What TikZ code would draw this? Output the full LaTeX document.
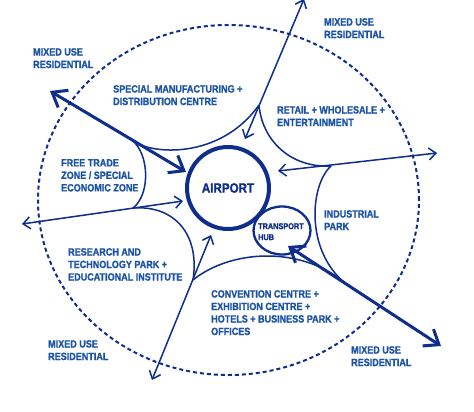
\documentclass[tikz,border=0pt]{standalone}
\usepackage{fontspec}
\setmainfont{Liberation Sans}[FakeStretch=0.86, BoldFeatures={FakeBold=1.2}]
\usetikzlibrary{arrows.meta,shapes.geometric}
\definecolor{ln}{RGB}{14,45,140}
\definecolor{tx}{RGB}{28,84,165}
\tikzset{
  lbl/.style={font=\bfseries\fontsize{10.5}{12.5}\selectfont, text=tx, align=left, anchor=north west, inner sep=0pt},
  edge/.style={draw=ln, line width=1.5pt},
  arr/.style={edge, {Straight Barb[length=7pt,width=12pt]}-{Straight Barb[length=7pt,width=12pt]}},
  tarr/.style={draw=ln, line width=3pt, {Straight Barb[length=13pt,width=20pt]}-{Straight Barb[length=13pt,width=20pt]}},
  zone/.style={draw=ln, line width=2pt, dash pattern=on 4pt off 3pt}
}
\begin{document}
\begin{tikzpicture}[x=1pt,y=-1pt]
\fill[white] (0,0) rectangle (474,412);
\useasboundingbox (0,0) rectangle (474,412);

% outer dashed boundary
\draw[zone] (228.5,200) ellipse [x radius=190.5pt, y radius=175pt];

% airport and hub
\node[circle, draw=ln, line width=4pt, minimum size=82pt, inner sep=0pt,
      font=\bfseries\fontsize{13.5}{14}\selectfont, text=ln] (ap) at (228,188) {AIRPORT};
\node[ellipse, draw=ln, line width=2.3pt, minimum width=57pt, minimum height=48pt, inner sep=0pt] (hub) at (282,230.5) {};
\node[lbl, text=ln, font=\bfseries\fontsize{8.5}{11}\selectfont] (hubt) at (258,223) {TRANSPORT\\HUB};

% junctions
\coordinate (J1) at (132,140);
\coordinate (J2) at (259,105);
\coordinate (J3) at (331,166);
\coordinate (J4) at (345,283);
\coordinate (J5) at (193,280);
\coordinate (J6) at (133,208);

% arrow end points
\coordinate (A1) at (50,91);   \coordinate (A2) at (186,172);
\coordinate (B1) at (22,224);  \coordinate (B2) at (183,201);
\coordinate (C1) at (304,-1);  \coordinate (C2) at (245,139);
\coordinate (D1) at (437,153); \coordinate (D2) at (278,171);
\coordinate (E1) at (288,246); \coordinate (E2) at (441,346);
\coordinate (F1) at (152,380); \coordinate (F2) at (211,235);

% zone boundaries
\draw[edge] (J1) .. controls (150,155) and (220,160) .. (J2);
\draw[edge] (J2) .. controls (262,140) and (290,168) .. (J3);
\draw[edge] (J3) .. controls (310,185) and (305,250) .. (J4);
\draw[edge] (J4) .. controls (300,245) and (230,250) .. (J5);
\draw[edge] (J5) .. controls (200,235) and (175,205) .. (J6);
\draw[edge] (J6) .. controls (150,195) and (150,155) .. (J1);

% arrows
\draw[tarr] (A1) -- (A2);
\draw[arr] (B1) -- (B2);
\draw[arr] (C1) -- (C2);
\draw[arr] (D1) -- (D2);
\draw[tarr] (E1) -- (E2);
\draw[arr] (F1) -- (F2);

% labels
\node[lbl] (mtl) at (33,48) {MIXED USE\\RESIDENTIAL};
\node[lbl] (mtr) at (324,18) {MIXED USE\\RESIDENTIAL};
\node[lbl] (smd) at (113,85) {SPECIAL MANUFACTURING +\\DISTRIBUTION CENTRE};
\node[lbl] (rwe) at (277,106) {RETAIL + WHOLESALE +\\ENTERTAINMENT};
\node[lbl] (ftz) at (61,159) {FREE TRADE\\ZONE / SPECIAL\\ECONOMIC ZONE};
\node[lbl] (ind) at (324,210) {INDUSTRIAL\\PARK};
\node[lbl] (rtp) at (68,248) {RESEARCH AND\\TECHNOLOGY PARK +\\EDUCATIONAL INSTITUTE};
\node[lbl] (cce) at (211,290) {CONVENTION CENTRE +\\EXHIBITION CENTRE +\\HOTELS + BUSINESS PARK +\\OFFICES};
\node[lbl] (mbl) at (48,340) {MIXED USE\\RESIDENTIAL};
\node[lbl] (mbr) at (351,346) {MIXED USE\\RESIDENTIAL};
\end{tikzpicture}
\end{document}
